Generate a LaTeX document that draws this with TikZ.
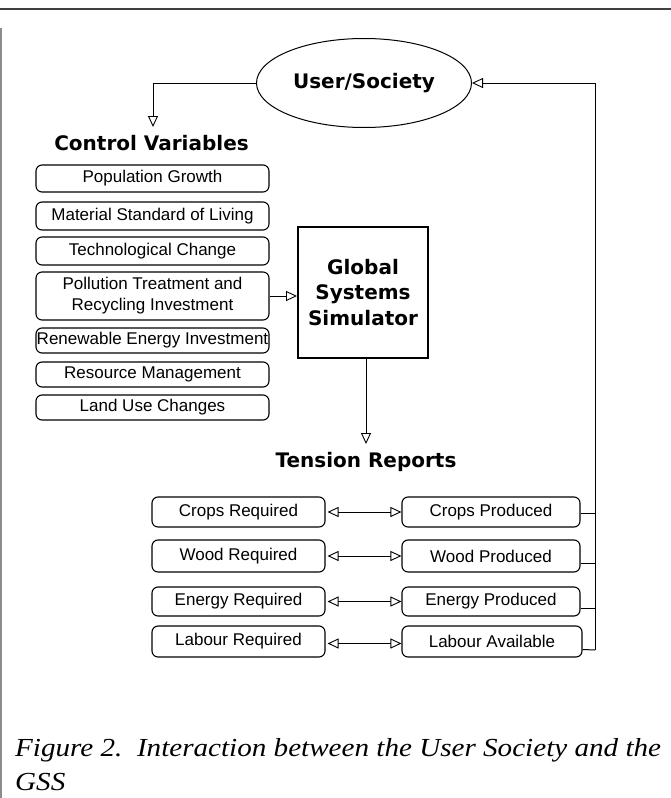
\documentclass[tikz,border=0pt]{standalone}
\usepackage{fontspec}
\usepackage{graphicx}
\setmainfont{Liberation Serif}
\newfontfamily\boxfont{Liberation Sans}
\newfontfamily\headfont{DejaVu Sans}
\usetikzlibrary{arrows.meta,shapes.geometric}
\tikzset{
  >={Triangle[open,length=11pt,width=10pt,line width=0.9pt]},
  cvbox/.style={draw,rounded corners=6pt,minimum width=233pt,inner sep=0pt,line width=1.1pt,
    align=center,font=\boxfont\fontsize{17}{21}\selectfont},
  trbox/.style={draw,rounded corners=6pt,inner sep=0pt,line width=1.1pt,
    font=\boxfont\fontsize{17}{19}\selectfont},
  head/.style={font=\headfont\bfseries\fontsize{20}{25.5}\selectfont,inner sep=0pt},
  conn/.style={line width=1pt},
}
\begin{document}
\begin{tikzpicture}[x=1pt,y=-1pt]
\useasboundingbox (0,0) rectangle (671,798);
% frame
\draw[line width=1.5pt,black!75] (0,9) -- (671,9);
\draw[line width=1.5pt,black!45] (1,28) -- (1,798);

\node[draw,ellipse,minimum width=215pt,minimum height=89pt,inner sep=0pt,line width=1pt,head] (us) at (364,83) {User/Society};
\coordinate (tl) at (153,83);
\coordinate (cvtip) at (153,127);
\node[head] (cv) at (151.5,143) {Control Variables};

\node[cvbox,minimum height=27pt] (pg) at (152.5,178.5) {Population Growth};
\node[cvbox,minimum height=28pt] (ms) at (152.5,216) {Material Standard of Living};
\node[cvbox,minimum height=28pt] (tc) at (152.5,251) {Technological Change};
\node[cvbox,minimum height=48pt] (pt) at (152.5,296) {Pollution Treatment and\\Recycling Investment};
\node[cvbox,minimum height=25pt] (re) at (152.5,340.5) {Renewable Energy Investment};
\node[cvbox,minimum height=25pt] (rm) at (152.5,374.5) {Resource Management};
\node[cvbox,minimum height=25pt] (lu) at (152.5,407.5) {Land Use Changes};

\node[draw,line width=2pt,minimum width=130pt,minimum height=131pt,inner sep=0pt,align=center,head] (gss) at (363,292.5) {Global\\Systems\\Simulator};

\coordinate (trtip) at (366,444);
\node[head] (tr) at (366,462) {Tension Reports};

\node[trbox,minimum width=173pt,minimum height=30pt] (cr) at (238.5,512) {Crops Required};
\node[trbox,minimum width=173pt,minimum height=32pt] (wr) at (238.5,556) {Wood Required};
\node[trbox,minimum width=173pt,minimum height=29pt] (er) at (238.5,601.5) {Energy Required};
\node[trbox,minimum width=173pt,minimum height=31pt] (lr) at (238.5,641.5) {Labour Required};

\node[trbox,minimum width=178pt,minimum height=30pt] (cp) at (491,512) {Crops Produced};
\node[trbox,minimum width=178pt,minimum height=32pt] (wp) at (491,556) {Wood Produced};
\node[trbox,minimum width=178pt,minimum height=29pt] (ep) at (491,601.5) {Energy Produced};
\node[trbox,minimum width=180pt,minimum height=31pt] (la) at (492,641.5) {Labour Available};

\coordinate (vr) at (595,83);
\coordinate (vb) at (595,650);

% connectors
\draw[conn,->] (us.west) -- (tl) -- (cvtip);
\draw[conn,->] (pt.east) -- (gss.west |- pt.east);
\draw[conn,->] (gss.south -| trtip) -- (trtip);
\draw[conn,<->] ([xshift=2pt]cr.east) -- (cp.west);
\draw[conn,<->] ([xshift=2pt]wr.east) -- (wp.west);
\draw[conn,<->] ([xshift=2pt]er.east) -- (ep.west);
\draw[conn,<->] ([xshift=2pt,yshift=-2pt]lr.east) -- ([yshift=-2pt]la.west);
\draw[conn] ([yshift=-1pt]cp.east) -- ([yshift=-1pt]cp.east -| vr);
\draw[conn] ([yshift=-7pt]wp.east) -- ([yshift=-7pt]wp.east -| vr);
\draw[conn] ([yshift=-7pt]ep.east) -- ([yshift=-7pt]ep.east -| vr);
\draw[conn] ([yshift=-8pt]la.east) -- (vb);
\draw[conn,->] (vb) -- (vr) -- (us.east);

\node[anchor=west,inner sep=0pt,font=\itshape\fontsize{26}{30}\selectfont] (cap1) at (15,750) {\scalebox{1.12}[1]{Figure 2.\ \ Interaction between the User Society and the}};
\node[anchor=west,inner sep=0pt,font=\itshape\fontsize{26}{30}\selectfont] (cap2) at (15,782) {\scalebox{1.12}[1]{GSS}};
\end{tikzpicture}
\end{document}
